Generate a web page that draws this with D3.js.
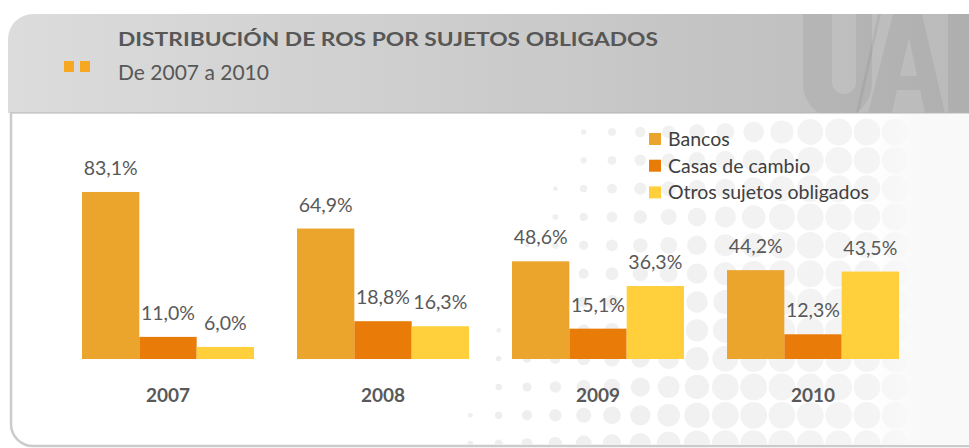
<!DOCTYPE html>
<html>
<head>
<meta charset="utf-8">
<script src="https://cdn.jsdelivr.net/npm/d3@7"></script>
<style>
  html, body { margin: 0; padding: 0; background: #fff; }
  svg { display: block; font-family: Lato, "Open Sans", sans-serif; }
</style>
</head>
<body>
<div id="chart"></div>
<script>
// ---------------------------------------------------------------
// Data
// ---------------------------------------------------------------
var years = ["2007", "2008", "2009", "2010"];
var seriesNames = ["Bancos", "Casas de cambio", "Otros sujetos obligados"];
var bancos = [83.1, 64.9, 48.6, 44.2];
var casas = [11.0, 18.8, 15.1, 12.3];
var otros = [6.0, 16.3, 36.3, 43.5];
var seriesColors = ["#EBA52C", "#E97C08", "#FFCF3C"];
var titleText = "DISTRIBUCIÓN DE ROS POR SUJETOS OBLIGADOS";
var subtitleText = "De 2007 a 2010";

var rows = years.map(function (y, i) {
    return { year: y, values: [bancos[i], casas[i], otros[i]] };
});

// ---------------------------------------------------------------
// SVG setup
// ---------------------------------------------------------------
var svgWidth = 969;
var svgHeight = 448;

var svg = d3.select("#chart")
    .append("svg")
    .attr("width", svgWidth)
    .attr("height", svgHeight);

var defs = svg.append("defs");

var headGrad = defs.append("linearGradient").attr("id", "headGrad")
    .attr("x1", "0%").attr("x2", "100%").attr("y1", "0%").attr("y2", "0%");
headGrad.append("stop").attr("offset", "0%").attr("stop-color", "#dcdcdc");
headGrad.append("stop").attr("offset", "55%").attr("stop-color", "#cacaca");
headGrad.append("stop").attr("offset", "100%").attr("stop-color", "#bababa");

var fadeGrad = defs.append("linearGradient").attr("id", "fadeGrad")
    .attr("x1", "0%").attr("x2", "100%");
fadeGrad.append("stop").attr("offset", "0%").attr("stop-color", "#f9f9f9").attr("stop-opacity", 0);
fadeGrad.append("stop").attr("offset", "45%").attr("stop-color", "#f9f9f9").attr("stop-opacity", 1);
fadeGrad.append("stop").attr("offset", "100%").attr("stop-color", "#f9f9f9").attr("stop-opacity", 1);

var headerPath = "M8,113 V39 A25,25 0 0 1 33,14 H975 V113 Z";
defs.append("clipPath").attr("id", "headClip").append("path").attr("d", headerPath);
defs.append("clipPath").attr("id", "panelClip").append("rect")
    .attr("x", 12).attr("y", 114).attr("width", 960).attr("height", 331);

// header band
svg.append("path").attr("d", headerPath).attr("fill", "url(#headGrad)");

// watermark letters (drawn as a shape, clipped by the band)
var mark = svg.append("g").attr("clip-path", "url(#headClip)")
    .attr("fill", "rgba(0,0,0,0.055)");
mark.append("path")   // U
    .attr("d", "M803,14 H832 V82 A12,12 0 0 0 856,82 V14 H872 V84 A34,34 0 0 1 803,84 Z");
mark.append("path")   // A
    .attr("d", "M868,113 L893,14 H922 L945,113 H925 L920,90 H897 L892,113 Z M900,76 H917 L909,38 Z");
mark.append("path")   // slash
    .attr("d", "M878,14 H881 L859,113 H856 Z");
mark.append("path")   // F
    .attr("d", "M948,14 H980 V113 H948 Z");

svg.append("line")
    .attr("x1", 10).attr("x2", 969).attr("y1", 113).attr("y2", 113)
    .attr("stroke", "#b3b3b3").attr("stroke-width", 1.2);

// panel border (left + bottom, rounded corner)
svg.append("path")
    .attr("d", "M11,113 V424 A22,22 0 0 0 33,446 H975")
    .attr("fill", "none")
    .attr("stroke", "#cbcbcb")
    .attr("stroke-width", 2.5);

// decorative dot texture
var dots = svg.append("g").attr("clip-path", "url(#panelClip)");
var dotStep = 28.33;
d3.range(-3, 16).forEach(function (i) {
    d3.range(0, 12).forEach(function (j) {
        var cx = 527 + i * dotStep;
        var cy = 132 + j * dotStep;
        var r = 4 + 0.045 * (cx + 0.38 * (cy - 132) - 613);
        r = Math.min(r, 13.4);
        if (r < 2) return;
        var t = Math.max(0, Math.min(1, (cx - 520) / 380));
        dots.append("circle")
            .attr("cx", cx).attr("cy", cy).attr("r", r)
            .attr("fill", d3.interpolateRgb("#eeeeee", "#f5f5f5")(t));
    });
});
svg.append("rect")
    .attr("x", 870).attr("y", 114).attr("width", 100).attr("height", 331)
    .attr("fill", "url(#fadeGrad)");

// orange bullets
svg.append("rect").attr("x", 64).attr("y", 61).attr("width", 10).attr("height", 11).attr("fill", "#F6A823");
svg.append("rect").attr("x", 80).attr("y", 61).attr("width", 10).attr("height", 11).attr("fill", "#F6A823");

// titles
svg.append("text")
    .attr("x", 118).attr("y", 46)
    .attr("font-size", 19.5)
    .attr("font-weight", 700)
    .attr("fill", "#575757")
    .attr("textLength", 540)
    .attr("lengthAdjust", "spacingAndGlyphs")
    .text(titleText);

svg.append("text")
    .attr("x", 118).attr("y", 80)
    .attr("font-size", 21)
    .attr("fill", "#575757")
    .text(subtitleText);

// ---------------------------------------------------------------
// Scales
// ---------------------------------------------------------------
var x0 = d3.scaleBand()
    .domain(years)
    .range([60.5, 920.5])
    .paddingInner(0.2)
    .paddingOuter(0.1);

var x1 = d3.scaleBand()
    .domain(d3.range(seriesNames.length))
    .range([0, x0.bandwidth()]);

var yScale = d3.scaleLinear()
    .domain([0, 100])
    .range([359, 158]);

var esLocale = d3.formatLocale({ decimal: ",", thousands: ".", grouping: [3], currency: ["", "€"] });
var fmt = esLocale.format(".1f");

// ---------------------------------------------------------------
// Bars + labels
// ---------------------------------------------------------------
var groups = svg.append("g").selectAll("g")
    .data(rows)
    .enter()
    .append("g")
    .attr("transform", function (d) { return "translate(" + x0(d.year) + ",0)"; });

groups.selectAll("rect")
    .data(function (d) { return d.values; })
    .enter()
    .append("rect")
    .attr("x", function (v, i) { return x1(i); })
    .attr("y", function (v) { return yScale(v); })
    .attr("width", x1.bandwidth())
    .attr("height", function (v) { return yScale(0) - yScale(v); })
    .attr("fill", function (v, i) { return seriesColors[i]; });

groups.selectAll("text")
    .data(function (d) { return d.values; })
    .enter()
    .append("text")
    .attr("x", function (v, i) { return x1(i) + x1.bandwidth() / 2; })
    .attr("y", function (v) { return yScale(v) - 17; })
    .attr("text-anchor", "middle")
    .attr("font-size", 19.5)
    .attr("fill", "#595959")
    .text(function (v) { return fmt(v) + "%"; });

// category axis
var xAxis = d3.axisBottom(x0).tickSize(0).tickPadding(30);
var axisG = svg.append("g")
    .attr("transform", "translate(0," + yScale(0) + ")")
    .call(xAxis);
axisG.select(".domain").remove();
axisG.attr("font-family", "Lato, 'Open Sans', sans-serif");
axisG.selectAll("text")
    .attr("font-size", 19)
    .attr("font-weight", 700)
    .attr("fill", "#595959");

// ---------------------------------------------------------------
// Legend
// ---------------------------------------------------------------
var legend = svg.append("g").selectAll("g")
    .data(seriesNames)
    .enter()
    .append("g")
    .attr("transform", function (d, i) { return "translate(649," + (133 + i * 26.7) + ")"; });

legend.append("rect")
    .attr("width", 12).attr("height", 12)
    .attr("fill", function (d, i) { return seriesColors[i]; });

legend.append("text")
    .attr("x", 19).attr("y", 13)
    .attr("font-size", 19.5)
    .attr("fill", "#404040")
    .text(function (d) { return d; });
</script>
</body>
</html>
